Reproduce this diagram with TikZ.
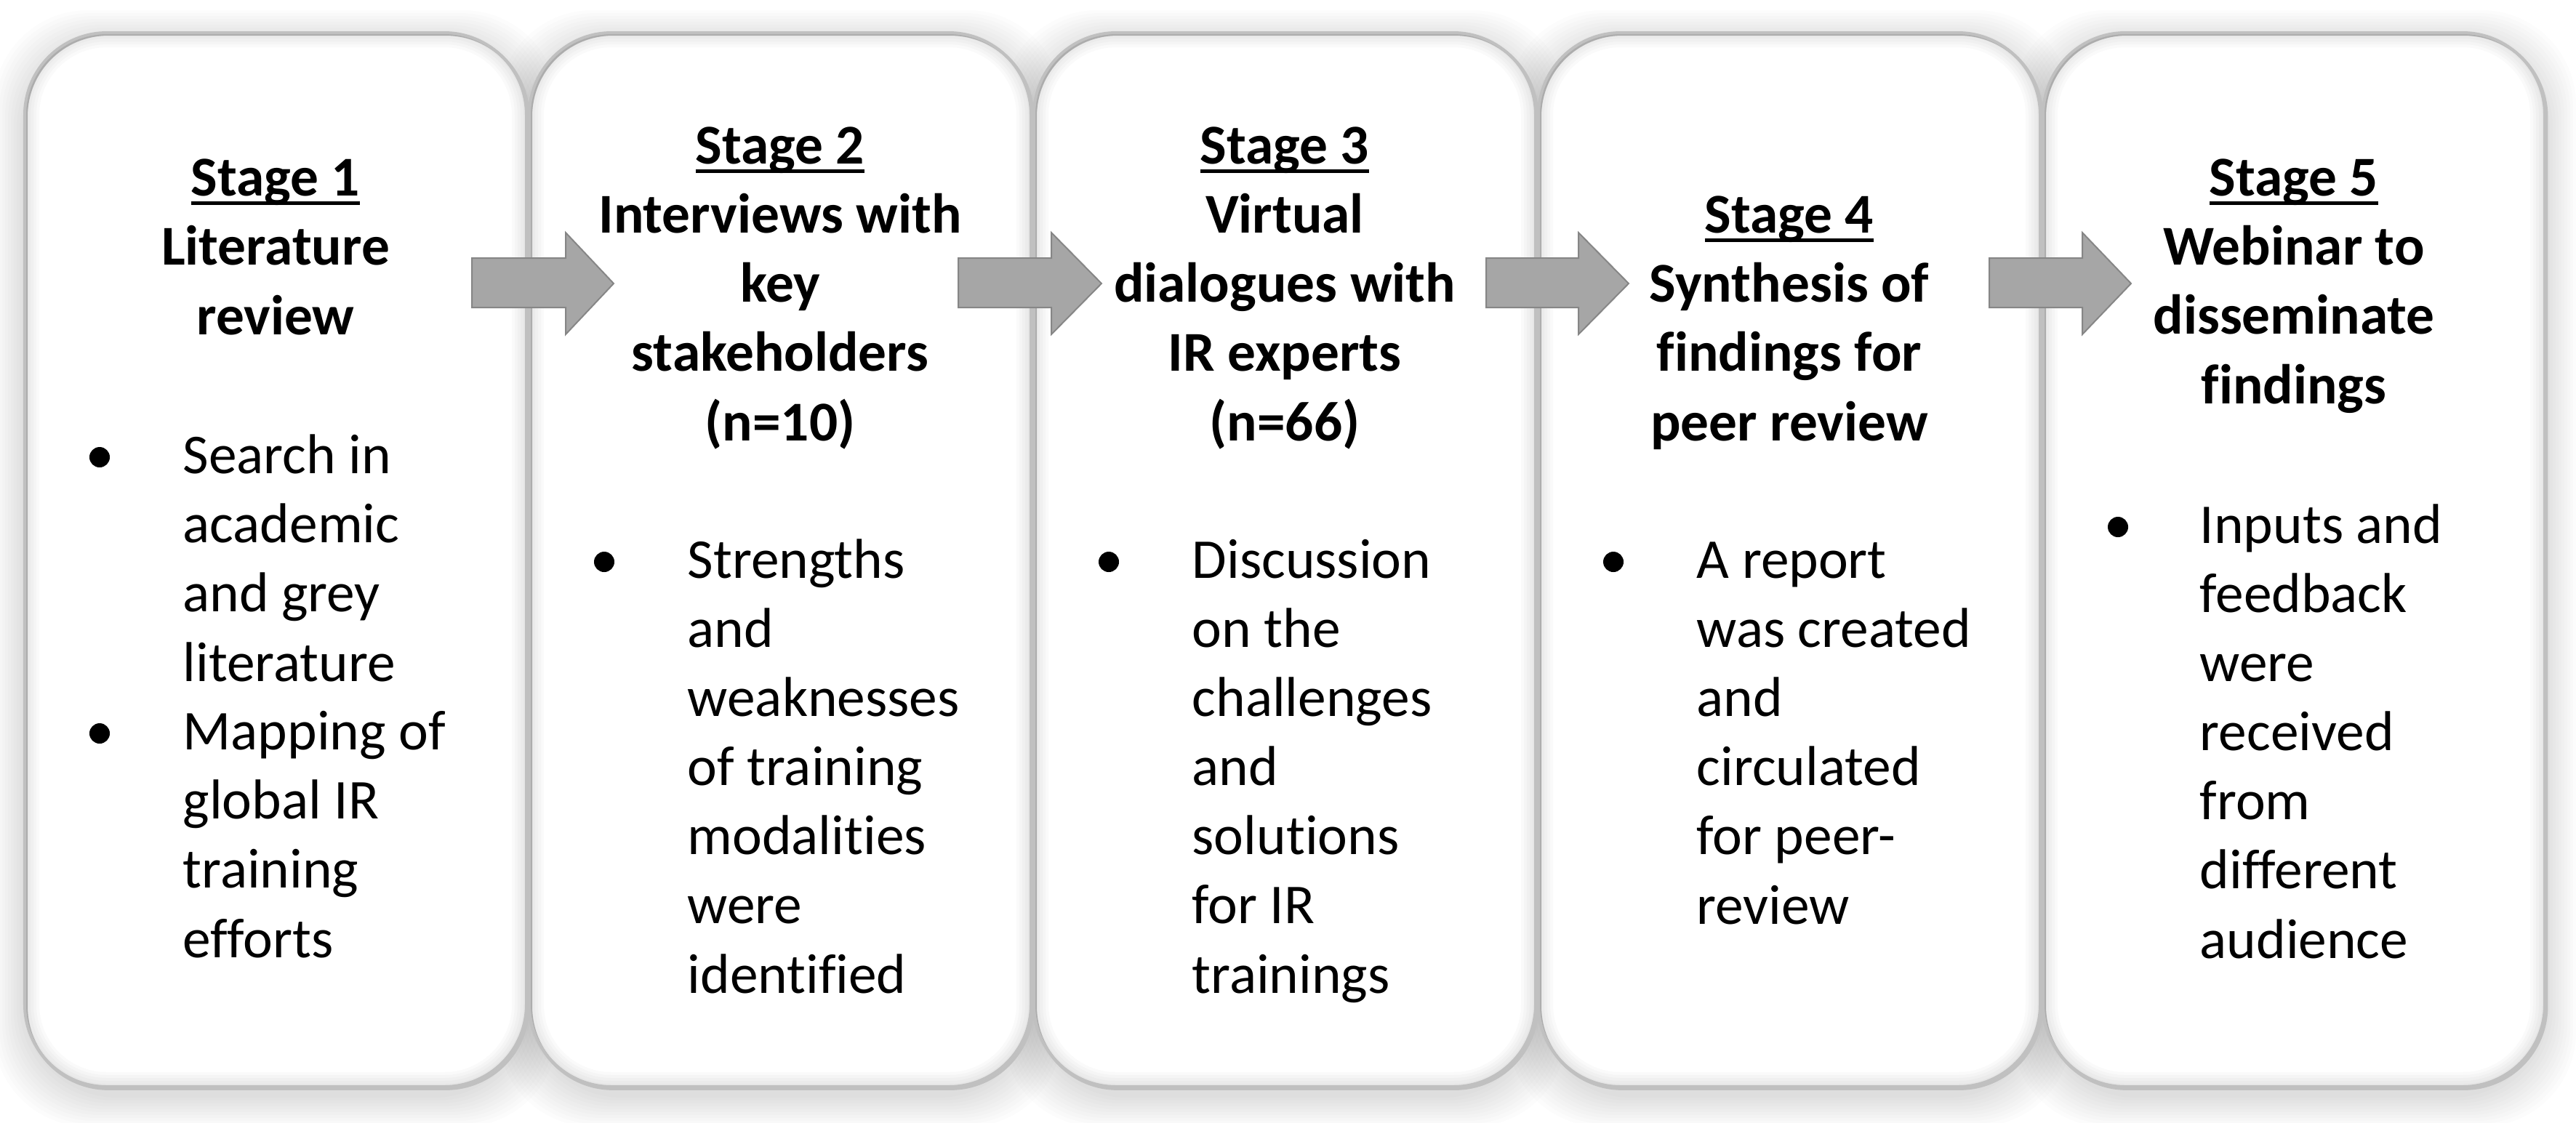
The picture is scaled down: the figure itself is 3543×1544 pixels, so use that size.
\documentclass[tikz,border=0pt]{standalone}
\usepackage{fontspec}
\setmainfont{Carlito}[Ligatures=NoCommon]
\definecolor{boxline}{HTML}{C0C0C0}
\definecolor{arrowfill}{HTML}{A6A6A6}
\definecolor{arrowline}{HTML}{868686}
\newsavebox{\ulbox}
\newcommand{\stageul}[1]{\sbox{\ulbox}{#1}\rlap{\rule[-0.155em]{\wd\ulbox}{0.06em}}\usebox{\ulbox}}
\tikzset{
  stagebox/.style={fill=white, draw=boxline, line width=0.04cm, rounded corners=1.13cm,
    minimum width=6.9cm, minimum height=14.5cm, anchor=north west, inner sep=0pt},
  headtext/.style={font=\fontsize{22}{27.03}\selectfont\bfseries, align=center, inner sep=0pt, anchor=base},
  bodytext/.style={font=\fontsize{22}{27.03}\selectfont, align=left, inner sep=0pt, anchor=base west},
  blockarrow/.style={fill=arrowfill, draw=arrowline, line width=0.02cm, line join=miter},
  bulletdot/.style={circle, fill=black, inner sep=0pt, minimum size=0.28cm},
  shadowlayer/.style={fill=black, opacity=0.012, rounded corners=1.3cm},
}
\begin{document}
\begin{tikzpicture}[x=0.01cm, y=-0.01cm]
\useasboundingbox (0,0) rectangle (3543,1544);
\fill[white] (0,0) rectangle (3543,1544);
% shadows
\foreach \bx in {34,728,1422,2116,2810}{
  \foreach \k in {3,7,...,43}{
    \fill[shadowlayer] ({\bx-\k},{57-\k}) rectangle ({\bx+690+\k},{1507+\k});
  }
}
% boxes
\node[stagebox] (s1) at (34,45) {};
\node[stagebox] (s2) at (728,45) {};
\node[stagebox] (s3) at (1422,45) {};
\node[stagebox] (s4) at (2116,45) {};
\node[stagebox] (s5) at (2810,45) {};
% inner glow
\foreach \bx in {34,728,1422,2116,2810}{
  \begin{scope}
    \clip[rounded corners=1.13cm] (\bx,45) rectangle ({\bx+690},1495);
    \foreach \w in {0.08,0.16,0.24,0.32,0.40}{
      \draw[black, opacity=0.018, line width=\w cm, rounded corners=1.13cm] (\bx,45) rectangle ({\bx+690},1495);
    }
  \end{scope}
  \draw[boxline, line width=0.04cm, rounded corners=1.13cm] (\bx,45) rectangle ({\bx+690},1495);
}
% headings (anchor = baseline of last line)
\node[headtext] (h1) at (379,460) {\stageul{Stage 1}\\Literature\\review};
\node[headtext] (h2) at (1073,606) {\stageul{Stage 2}\\Interviews with\\key\\stakeholders\\(n=10)};
\node[headtext] (h3) at (1767,606) {\stageul{Stage 3}\\Virtual\\dialogues with\\IR experts\\(n=66)};
\node[headtext] (h4) at (2461,606) {\stageul{Stage 4}\\Synthesis of\\findings for\\peer review};
\node[headtext] (h5) at (3155,555) {\stageul{Stage 5}\\Webinar to\\disseminate\\findings};
% bullet texts (anchor = baseline of last line)
\node[bodytext] (t1a) at (251,937) {Search in\\academic\\and grey\\literature};
\node[bodytext] (t1b) at (251,1317) {Mapping of\\global IR\\training\\efforts};
\node[bodytext] (t2) at (945,1366) {Strengths\\and\\weaknesses\\of training\\modalities\\were\\identified};
\node[bodytext] (t3) at (1639,1366) {Discussion\\on the\\challenges\\and\\solutions\\for IR\\trainings};
\node[bodytext] (t4) at (2333,1271) {A report\\was created\\and\\circulated\\for peer-\\review};
\node[bodytext] (t5) at (3025,1318) {Inputs and\\feedback\\were\\received\\from\\different\\audience};
% bullets
\node[bulletdot] (d1a) at (137,629) {};
\node[bulletdot] (d1b) at (137,1009) {};
\node[bulletdot] (d2) at (831,773) {};
\node[bulletdot] (d3) at (1525,773) {};
\node[bulletdot] (d4) at (2219,773) {};
\node[bulletdot] (d5) at (2913,725) {};
% arrows
\foreach \a/\b/\c in {649/778/844, 1318/1446/1515, 2044/2171/2240, 2736/2864/2931}{
  \draw[blockarrow] (\a,355) -- (\b,355) -- (\b,320) -- (\c,390) -- (\b,460) -- (\b,423) -- (\a,423) -- cycle;
}
\end{tikzpicture}
\end{document}
